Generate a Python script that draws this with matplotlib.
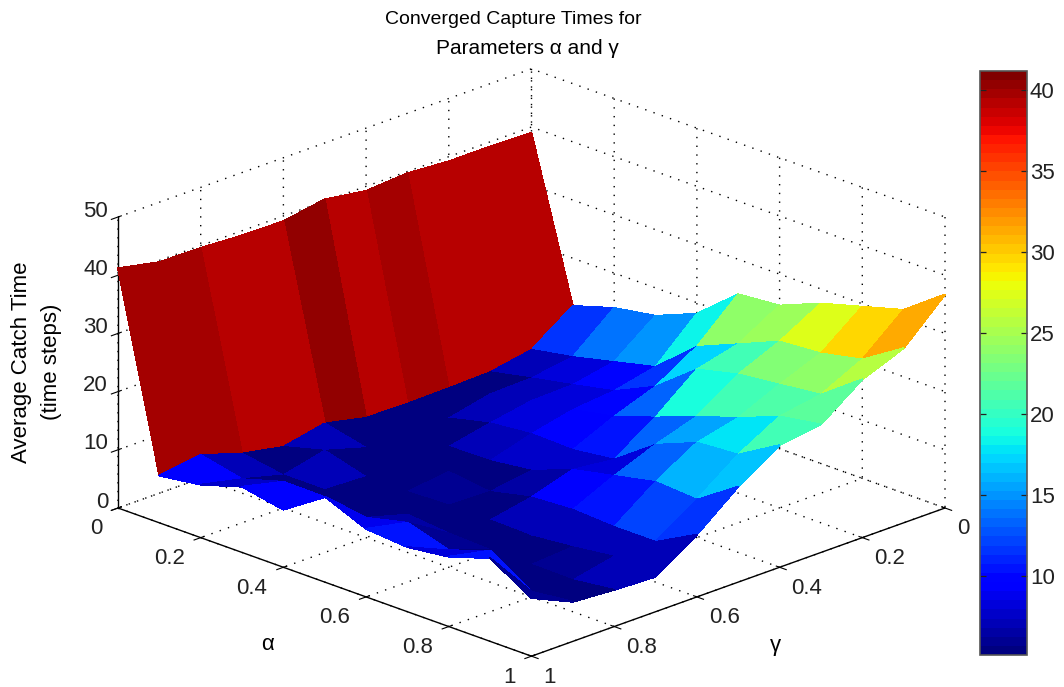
import numpy as np
import matplotlib
matplotlib.use('Agg')
import matplotlib.pyplot as plt
from matplotlib.colors import Normalize
from matplotlib.cm import ScalarMappable
from mpl_toolkits.mplot3d import proj3d

# ==================== DATA ====================
gamma = [0, 0.1, 0.2, 0.3, 0.4, 0.5, 0.6, 0.7, 0.8, 0.9, 1]
alpha = [0, 0.1, 0.2, 0.3, 0.4, 0.5, 0.6, 0.7, 0.8, 0.9, 1]

# one row per alpha, one column per gamma
a00 = [39.0, 39.2, 39.2, 39.7, 39.2, 40.3, 39.1, 39.2, 39.6, 39.7, 41.2]
a01 = [11.8, 6.8, 5.5, 5.3, 5.2, 5.3, 6.9, 5.4, 6.8, 9.1, 8.1]
a02 = [14.0, 8.1, 7.0, 6.8, 5.2, 5.5, 5.2, 7.3, 5.6, 7.5, 9.1]
a03 = [15.2, 9.8, 8.4, 8.2, 6.9, 5.4, 5.2, 5.3, 5.6, 9.6, 11.3]
a04 = [18.1, 11.5, 9.9, 9.2, 7.6, 5.5, 6.2, 5.3, 5.6, 9.5, 9.9]
a05 = [24.0, 17.5, 13.2, 10.6, 7.4, 6.4, 5.3, 5.5, 6.5, 8.5, 14.7]
a06 = [24.6, 20.5, 18.7, 13.0, 8.3, 9.1, 6.9, 5.5, 5.8, 10.2, 11.7]
a07 = [27.5, 23.5, 20.4, 15.7, 13.4, 10.6, 7.3, 5.3, 5.5, 8.0, 11.1]
a08 = [29.5, 24.0, 21.2, 18.0, 16.3, 12.1, 6.9, 6.0, 5.5, 10.5, 12.0]
a09 = [31.5, 25.5, 22.0, 20.8, 16.8, 11.6, 6.9, 6.9, 5.4, 6.0, 14.3]
a10 = [36.7, 30.0, 27.2, 22.0, 21.0, 16.4, 10.7, 6.0, 6.3, 6.8, 10.0]

catch_time = np.array([a00, a01, a02, a03, a04, a05, a06, a07, a08, a09, a10])

floor_ticks = [0, 0.2, 0.4, 0.6, 0.8, 1]
floor_labels = ['0', '0.2', '0.4', '0.6', '0.8', '1']
z_ticks = [0, 10, 20, 30, 40, 50]
z_labels = ['0', '10', '20', '30', '40', '50']
cbar_ticks = [10, 15, 20, 25, 30, 35, 40]

# ==================== STYLE ====================
W, H = 1064, 687
plt.rcParams['font.family'] = ['Liberation Sans', 'DejaVu Sans']
plt.rcParams['grid.color'] = 'black'
plt.rcParams['grid.linestyle'] = (0, (1, 5.3))
plt.rcParams['grid.linewidth'] = 1.0
plt.rcParams['axes.linewidth'] = 0.8

TICK_SIZE = 16
LABEL_SIZE = 14
INK = '#222222'

fig = plt.figure(figsize=(W / 100, H / 100), dpi=100, facecolor='white')
ax = fig.add_axes([0, 0, 1, 1], projection='3d', proj_type='ortho')
ax.view_init(elev=21, azim=45)
ax.set_box_aspect((1, 1, 0.533))
ax.set_xlim(0, 1, view_margin=0)
ax.set_ylim(0, 1, view_margin=0)
ax.set_zlim(0, 50, view_margin=0)

# place the box so the left floor corner and right floor corner hit the reference pixels
M = ax.get_proj()
ul, vl, _ = proj3d.proj_transform(1, 0, 0, M)
ur, vr, _ = proj3d.proj_transform(0, 1, 0, M)
ax.apply_aspect()
bb = ax.get_position()
bw, bh = bb.width * W, bb.height * H
pl, pr = ax.transData.transform([[ul, vl], [ur, vr]])
side = (945 - 118) / ((pr[0] - pl[0]) / bw)
left = 118 - (pl[0] - bb.x0 * W) / bw * side
bottom = (H - 508) - (pl[1] - bb.y0 * H) / bh * side
ax.set_position([left / W, bottom / H, side / W, side / H])
ax.apply_aspect()


def label_at(x, y, z, dx, dy, text, ha):
    # tick label placed at a pixel offset from its tick on the 3D box
    u, v, _ = proj3d.proj_transform(x, y, z, M)
    px, py = ax.transData.transform((u, v))
    fig.text((px + dx) / W, (py - dy) / H, text, ha=ha, va='center', fontsize=TICK_SIZE, color=INK)


# ==================== SURFACE ====================
cmap = plt.get_cmap('jet', 64)
norm = Normalize(5.1, 41.2)
X, Y = np.meshgrid(gamma, alpha)
ax.plot_surface(X, Y, catch_time, rstride=1, cstride=1, facecolors=cmap(norm(catch_time)),
                shade=False, linewidth=0.6, antialiased=False)

# ==================== AXES ====================
for axis in (ax.xaxis, ax.yaxis, ax.zaxis):
    axis.set_pane_color((1, 1, 1, 0))
    axis.pane.set_edgecolor((1, 1, 1, 0))
    axis.line.set_color('black')
    axis.line.set_linewidth(1.0)

ax.set_xticks(floor_ticks)
ax.set_xticklabels([''] * len(floor_ticks))
ax.set_yticks(floor_ticks)
ax.set_yticklabels([''] * len(floor_ticks))
ax.set_zticks(z_ticks)
ax.set_zticklabels([''] * len(z_ticks))
ax.zaxis.set_ticks_position('lower')

for t, lab in zip(floor_ticks, floor_labels):
    label_at(1, t, 0, -16, 21, lab, 'right')
    label_at(t, 1, 0, 12, 21, lab, 'left')
for t, lab in zip(z_ticks, z_labels):
    label_at(1, 0, t, -10, -6, lab, 'right')

fig.text(513 / W, 1 - 20 / H, 'Converged Capture Times for', ha='center', va='center', fontsize=LABEL_SIZE)
fig.text(527.5 / W, 1 - 49 / H, 'Parameters α and γ', ha='center', va='center', fontsize=15)
fig.text(22 / W, 1 - 362 / H, 'Average Catch Time', rotation=90, ha='center', va='center', fontsize=16)
fig.text(52 / W, 1 - 362 / H, '(time steps)', rotation=90, ha='center', va='center', fontsize=16)
fig.text(267 / W, 1 - 645 / H, 'α', ha='center', va='center', fontsize=16)
fig.text(775 / W, 1 - 645 / H, 'γ', ha='center', va='center', fontsize=16)

# ==================== COLORBAR ====================
cax = fig.add_axes([980 / W, 1 - 655 / H, 47 / W, 584 / H])
cbar = fig.colorbar(ScalarMappable(norm=norm, cmap=cmap), cax=cax)
cbar.set_ticks(cbar_ticks)
cbar.ax.tick_params(labelsize=TICK_SIZE, direction='in', length=4.5, width=0.9, left=True, right=True,
                    pad=2, colors=INK)
cbar.outline.set_linewidth(1.2)
cbar.outline.set_edgecolor('#555555')

plt.savefig('out.png', dpi=100)
plt.close()
